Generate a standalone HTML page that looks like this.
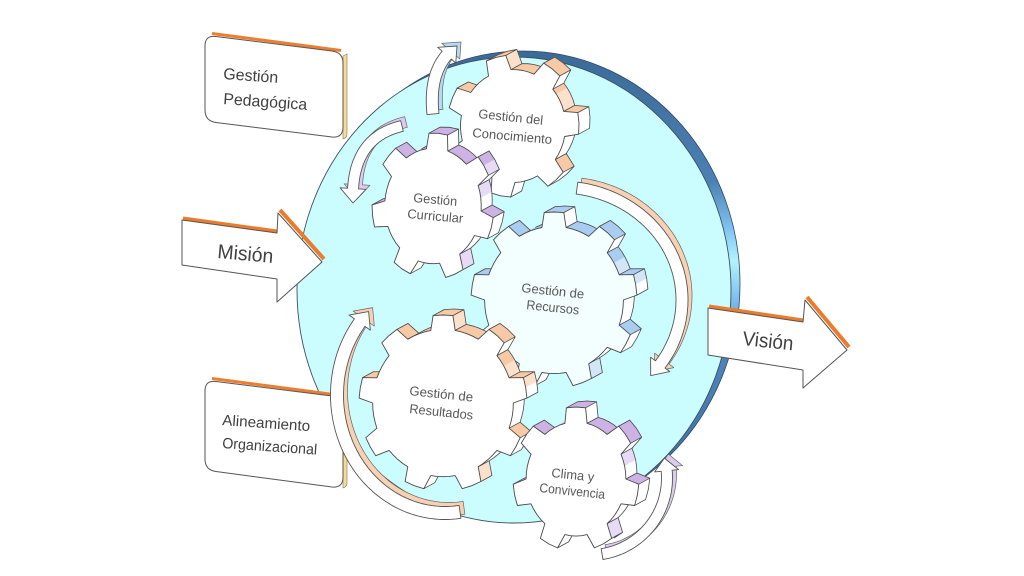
<!DOCTYPE html>
<html><head><meta charset="utf-8">
<style>
html,body{margin:0;padding:0;background:#fff;}
svg{display:block;}
text{font-family:"Liberation Sans",sans-serif;}
</style></head>
<body>
<svg id="s" width="1024" height="576" viewBox="0 0 1024 576" xmlns="http://www.w3.org/2000/svg">
<defs>
<linearGradient id="rim" x1="0" y1="0" x2="0" y2="1">
 <stop offset="0" stop-color="#3b6a98"/>
 <stop offset="0.28" stop-color="#4c80b3"/>
 <stop offset="0.38" stop-color="#7fc2f0"/>
 <stop offset="0.45" stop-color="#b2f3ff"/>
 <stop offset="0.53" stop-color="#7fc0ee"/>
 <stop offset="0.63" stop-color="#4f86bb"/>
 <stop offset="1" stop-color="#3b6a98"/>
</linearGradient>
</defs>
<rect width="1024" height="576" fill="#fff"/>

<!-- disc -->
<ellipse cx="523" cy="284" rx="217" ry="233" fill="url(#rim)" stroke="#2c4a68" stroke-width="0.8"/>
<ellipse cx="514" cy="290" rx="217" ry="233" fill="#cbfdfe" stroke="#3d4f5c" stroke-width="0.9"/>

<!-- Gestión Pedagógica box -->
<line x1="212" y1="33.5" x2="341" y2="50.5" stroke="#ee7d2e" stroke-width="3"/>
<path d="M343,56 L347,54 L347,134 Q347,138 343,139 Z" fill="#fbd98f" stroke="#777" stroke-width="0.6"/>
<path d="M205,46 Q205,35 216,36.5 L332,51 Q343,52.5 343,63 L343,127 Q343,138 332,137 L216,122.5 Q205,121 205,110 Z" fill="#fff" stroke="#555" stroke-width="1"/>

<!-- Alineamiento box -->
<line x1="212" y1="378.5" x2="341" y2="395.5" stroke="#ee7d2e" stroke-width="3"/>
<path d="M343,401 L347,399 L347,483 Q347,487 343,488 Z" fill="#fbd98f" stroke="#777" stroke-width="0.6"/>
<path d="M205,391 Q205,380 216,381.5 L332,396 Q343,397.5 343,408 L343,477 Q343,488 332,487 L216,471.5 Q205,470 205,459 Z" fill="#fff" stroke="#555" stroke-width="1"/>

<!-- Misión arrow -->
<line x1="183" y1="218.5" x2="277" y2="231.5" stroke="#ec7c2c" stroke-width="4"/>
<line x1="280" y1="210" x2="324" y2="259" stroke="#ec7c2c" stroke-width="4"/>
<polygon points="182,220 277,233 278,213 322,262 277,302 277,279 182,265" fill="#fff" stroke="#555" stroke-width="1" stroke-linejoin="round"/>

<!-- Visión arrow -->
<line x1="709" y1="306.5" x2="803" y2="320.5" stroke="#ec7c2c" stroke-width="4"/>
<line x1="807" y1="297" x2="849" y2="347" stroke="#ec7c2c" stroke-width="4"/>
<polygon points="708,308 803,322 805,300 847,350 803,388 803,370 708,355" fill="#fff" stroke="#555" stroke-width="1" stroke-linejoin="round"/>

<g id="G"></g>
<g id="A"></g>

<!-- gear labels -->
<g font-size="13" fill="#585858">
<text x="478" y="118" transform="rotate(6 478 118)" textLength="65" lengthAdjust="spacingAndGlyphs">Gestión del</text>
<text x="472" y="137" transform="rotate(5 472 137)" textLength="80" lengthAdjust="spacingAndGlyphs">Conocimiento</text>
<text x="413" y="202" transform="rotate(5 413 202)" textLength="44" lengthAdjust="spacingAndGlyphs">Gestión</text>
<text x="407" y="218" transform="rotate(5 407 218)" textLength="56" lengthAdjust="spacingAndGlyphs">Curricular</text>
<text x="521" y="292" transform="rotate(6 521 292)" textLength="63" lengthAdjust="spacingAndGlyphs">Gestión de</text>
<text x="526" y="309" transform="rotate(6 526 309)" textLength="53" lengthAdjust="spacingAndGlyphs">Recursos</text>
<text x="409" y="395" transform="rotate(6 409 395)" textLength="64" lengthAdjust="spacingAndGlyphs">Gestión de</text>
<text x="409" y="413" transform="rotate(6 409 413)" textLength="64" lengthAdjust="spacingAndGlyphs">Resultados</text>
<text x="551" y="477" transform="rotate(6 551 477)" textLength="43" lengthAdjust="spacingAndGlyphs">Clima y</text>
<text x="539" y="492" transform="rotate(6 539 492)" textLength="66" lengthAdjust="spacingAndGlyphs">Convivencia</text>
</g>

<!-- box / arrow labels -->
<g fill="#404040">
<text x="223" y="79" font-size="16" transform="rotate(4 223 79)" textLength="55" lengthAdjust="spacingAndGlyphs">Gestión</text>
<text x="223" y="104" font-size="16" transform="rotate(4 223 104)" textLength="84" lengthAdjust="spacingAndGlyphs">Pedagógica</text>
<text x="222" y="425" font-size="15" transform="rotate(4 222 425)" textLength="88" lengthAdjust="spacingAndGlyphs">Alineamiento</text>
<text x="222" y="448" font-size="15" transform="rotate(4 222 448)" textLength="95" lengthAdjust="spacingAndGlyphs">Organizacional</text>
<text x="217" y="258" font-size="20" transform="rotate(5 217 258)" textLength="56" lengthAdjust="spacingAndGlyphs">Misión</text>
<text x="742" y="345" font-size="20" transform="rotate(6 742 345)" textLength="51" lengthAdjust="spacingAndGlyphs">Visión</text>
</g>
</svg>

<script>
const NS='http://www.w3.org/2000/svg';
function el(t,a,p){const e=document.createElementNS(NS,t);for(const k in a)e.setAttribute(k,a[k]);p.appendChild(e);return e;}
function P(pts){return pts.map(p=>p[0].toFixed(1)+','+p[1].toFixed(1)).join(' ');}
function gear(par,cx,cy,Rx,Ry,N,ph,col,lite,face,dx,dy){
 const depth=14, s=1-depth/((Rx+Ry)/2);
 const pts=[],cor=[];
 const p=2*Math.PI/N,a0=ph*Math.PI/180,tf=0.34,bf=0.5;
 const at=(ang,k)=>[cx+Rx*k*Math.cos(ang),cy+Ry*k*Math.sin(ang)];
 for(let i=0;i<N;i++){
  const a=a0+i*p,b0=a-bf*p/2,t0=a-tf*p/2,t1=a+tf*p/2,b1=a+bf*p/2,g1=a+p-bf*p/2;
  pts.push(at(b0,s));cor.push(1);
  pts.push(at(t0,1));cor.push(1);
  pts.push(at(a,1));cor.push(0);
  pts.push(at(t1,1));cor.push(1);
  pts.push(at(b1,s));cor.push(1);
  for(let k=1;k<4;k++){pts.push(at(b1+(g1-b1)*k/4,s));cor.push(0);}
 }
 const n=pts.length,vis=[];
 const g=el('g',{},par);
 for(let i=0;i<n;i++){
  const A=pts[i],B=pts[(i+1)%n],ex=B[0]-A[0],ey=B[1]-A[1],L=Math.hypot(ex,ey)||1;
  const nx=ey/L,ny=-ex/L; const v=(nx*dx+ny*dy)>0; vis.push(v);
  if(!v)continue;
  const f=ny<-0.5?col:(ny<-0.15?lite:'#ffffff');
  el('polygon',{points:P([A,B,[B[0]+dx,B[1]+dy],[A[0]+dx,A[1]+dy]]),fill:f,stroke:f,'stroke-width':0.6,'stroke-linejoin':'round'},g);
 }
 let d='';
 for(let i=0;i<n;i++){
  const A=pts[i],B=pts[(i+1)%n];
  if(vis[i]) d+='M'+(A[0]+dx).toFixed(1)+','+(A[1]+dy).toFixed(1)+'L'+(B[0]+dx).toFixed(1)+','+(B[1]+dy).toFixed(1);
  if(cor[i]&&(vis[i]||vis[(i-1+n)%n])) d+='M'+A[0].toFixed(1)+','+A[1].toFixed(1)+'l'+dx+','+dy;
 }
 el('path',{d:d,fill:'none',stroke:'#4a4a4a','stroke-width':0.8,'stroke-linecap':'round'},g);
 el('polygon',{points:P(pts),fill:face,stroke:'#4a4a4a','stroke-width':0.9,'stroke-linejoin':'round'},g);
}
function sample(f,t0,t1,M){const a=[];for(let k=0;k<=M;k++)a.push(f(t0+(t1-t0)*k/M));return a;}
function arrowPts(c,hw,hhw,hl){
 const n=c.length,cum=[0];
 for(let i=1;i<n;i++)cum.push(cum[i-1]+Math.hypot(c[i][0]-c[i-1][0],c[i][1]-c[i-1][1]));
 const tot=cum[n-1];let h=n-1;while(h>0&&tot-cum[h]<hl)h--;
 const L=[],R=[];
 for(let i=0;i<=h;i++){
  const a=c[Math.max(0,i-1)],b=c[Math.min(n-1,i+1)];
  let tx=b[0]-a[0],ty=b[1]-a[1];const l=Math.hypot(tx,ty)||1;tx/=l;ty/=l;
  const nx=-ty,ny=tx;
  L.push([c[i][0]+nx*hw,c[i][1]+ny*hw]);R.push([c[i][0]-nx*hw,c[i][1]-ny*hw]);
  if(i==h){L.push([c[i][0]+nx*hhw,c[i][1]+ny*hhw]);R.push([c[i][0]-nx*hhw,c[i][1]-ny*hhw]);}
 }
 return L.concat([c[n-1]],R.reverse());
}
function arrow(par,c,hw,hhw,hl,col,dx,dy){
 const pts=arrowPts(c,hw,hhw,hl);
 const g=el('g',{},par);
 el('polygon',{points:P(pts.map(p=>[p[0]+dx,p[1]+dy])),fill:col,stroke:'#666','stroke-width':0.7,'stroke-linejoin':'round'},g);
 el('polygon',{points:P(pts),fill:'#fff',stroke:'#555','stroke-width':0.9,'stroke-linejoin':'round'},g);
}
const qb=(P0,P1,P2)=>t=>{const u=1-t;return [u*u*P0[0]+2*u*t*P1[0]+t*t*P2[0],u*u*P0[1]+2*u*t*P1[1]+t*t*P2[1]];};
const ell=(cx,cy,rx,ry)=>t=>{const r=t*Math.PI/180;return [cx+rx*Math.cos(r),cy+ry*Math.sin(r)];};

const G=document.getElementById('G'),A=document.getElementById('A');
const dx=11,dy=-6;
gear(G,513,126,66,71,7,-105,'#f7c9a5','#fbe0cb','#ffffff',dx,dy);
gear(G,554,300,83,88,9,-90,'#a8cdf1','#d3e6f8','#f3feff',dx,dy);
gear(G,433,206,61,73,7,-85,'#cdb2e5','#e6daf4','#ffffff',dx,dy);
gear(G,443,403,84,88,9,-90,'#f7c9a5','#fbe0cb','#ffffff',dx,dy);
gear(G,576,479,63,72,7,-90,'#cdb2e5','#e6daf4','#ffffff',dx,dy);

arrow(A,sample(qb([433,114],[428,66],[457,46]),0,1,60),6,12,13,'#b9daf5',4,-4);
arrow(A,sample(qb([402,126],[350,138],[353,203]),0,1,60),5.5,13,13,'#dccbef',4,-4);
arrow(A,sample(ell(560,300,122,113),-82,42,120),6,12,13,'#f8d0b2',4,-4);
arrow(A,sample(ell(445,395,108,118),82,225,120),6.5,13,13,'#f8d0b2',4,-4);
arrow(A,sample(ell(590,478,77,77),81,-15,90),5.5,12,12,'#dccbef',4,-4);
</script>
</body></html>
